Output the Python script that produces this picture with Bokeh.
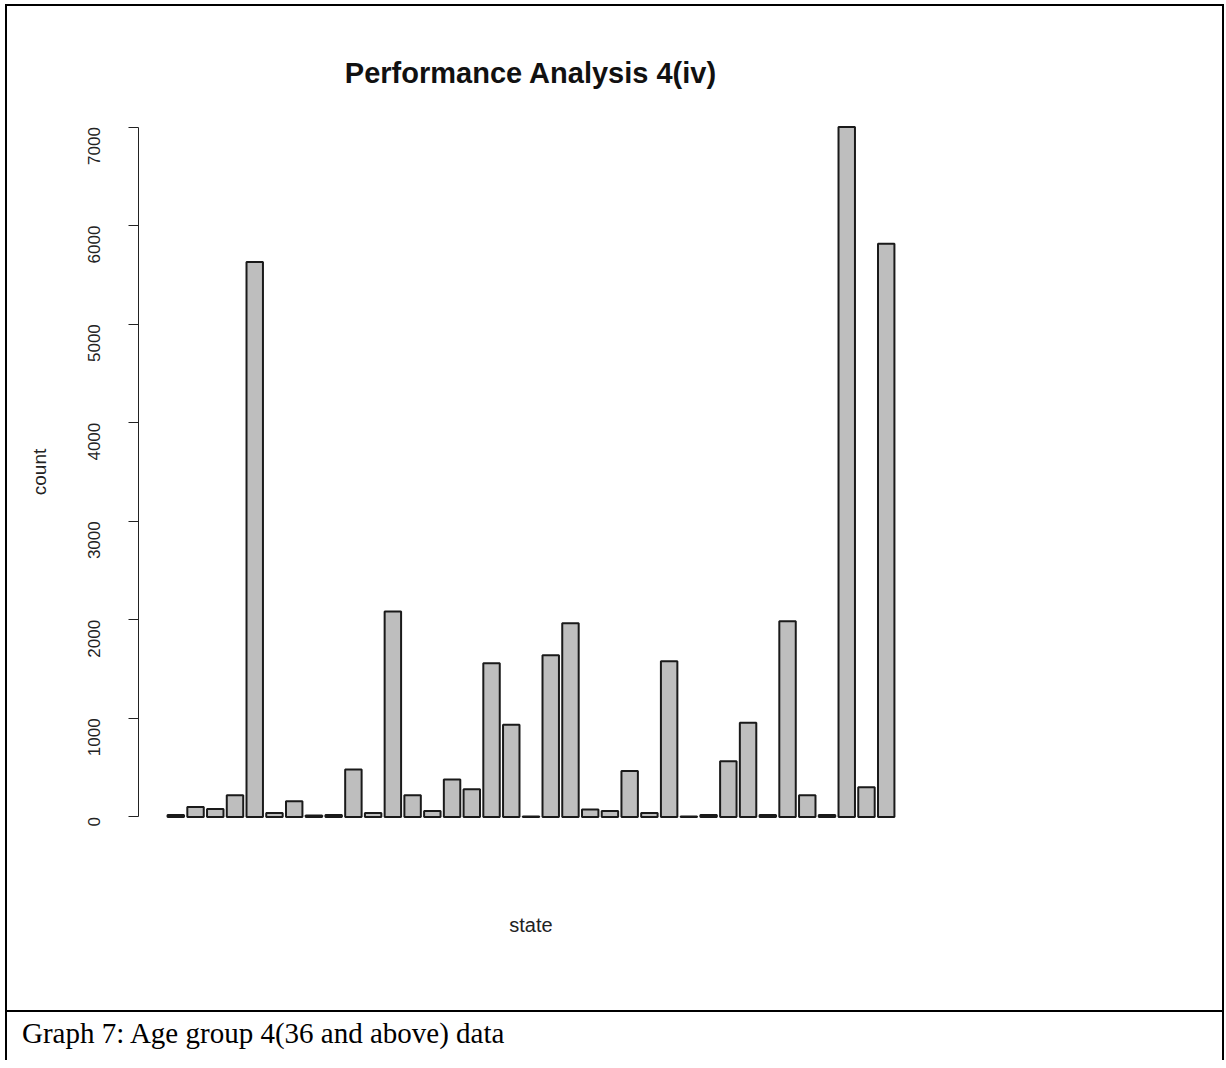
from bokeh.plotting import figure
from bokeh.models import Range1d, FixedTicker, LinearAxis, Div
from bokeh.layouts import column
from bokeh.embed import file_html
from bokeh.resources import INLINE
import math

# ---- data ----
bar_index = list(range(1, 38))
counts = [20, 100, 80, 220, 5630, 40, 160, 15, 20, 480, 40, 2085, 220, 60, 380,
          280, 1560, 935, 5, 1640, 1965, 75, 60, 465, 40, 1580, 3, 20, 565, 955,
          20, 1985, 220, 20, 7000, 300, 5815]
y_ticks = [0, 1000, 2000, 3000, 4000, 5000, 6000, 7000]
title_text = "Performance Analysis 4(iv)"
x_label = "state"
y_label = "count"
caption_text = "Graph 7: Age group 4(36 and above) data"

# R barplot geometry: width 1, space 0.2
centers = [0.7 + 1.2 * (i - 1) for i in bar_index]
x_lo, x_hi = 0.2, 1.2 * len(bar_index)
x_pad = 0.04 * (x_hi - x_lo)
y_max = max(counts)
y_pad = 0.04 * y_max

FW, FH = 781, 743
p = figure(width=1215, height=1004, frame_width=FW, frame_height=FH,
           min_border_left=131, min_border_right=303, min_border_top=93,
           min_border_bottom=168, output_backend="svg", toolbar_location=None,
           x_axis_location=None,
           x_range=Range1d(x_lo - x_pad, x_hi + x_pad),
           y_range=Range1d(-y_pad, y_max + y_pad))
p.styles = {"border-top": "2px solid black", "border-left": "2px solid black",
            "border-right": "2px solid black"}
p.outline_line_color = None
p.grid.visible = False
p.background_fill_color = "white"
p.border_fill_color = "white"

p.title.text = title_text
p.title.align = "center"
p.title.text_font = "Liberation Sans"
p.title.text_font_style = "bold"
p.title.text_font_size = "29px"
p.title.text_color = "#111111"
p.title.standoff = 22

p.vbar(x=centers, top=counts, bottom=0, width=1.0, fill_color="#BEBEBE",
       line_color="#1a1a1a", line_width=2)

ya = p.yaxis[0]
ya.ticker = FixedTicker(ticks=y_ticks)
ya.bounds = (0, 7000)
ya.major_label_orientation = math.pi / 2
ya.major_tick_out = 10
ya.major_tick_in = 0
ya.minor_tick_out = 0
ya.minor_tick_in = 0
ya.major_label_standoff = 34
ya.axis_line_color = "#222222"
ya.major_tick_line_color = "#222222"
ya.major_label_text_font = "Liberation Sans"
ya.major_label_text_font_size = "17px"
ya.major_label_text_color = "#222222"
ya.axis_label = y_label
ya.axis_label_text_font = "Liberation Sans"
ya.axis_label_text_font_size = "19px"
ya.axis_label_text_font_style = "normal"
ya.axis_label_text_color = "#222222"
ya.axis_label_standoff = 30

xa = LinearAxis(ticker=FixedTicker(ticks=[]), axis_line_color=None,
                major_tick_line_color=None, minor_tick_line_color=None,
                major_label_text_font_size="0px", axis_label=x_label,
                axis_label_text_font="Liberation Sans",
                axis_label_text_font_size="20px",
                axis_label_text_font_style="normal",
                axis_label_text_color="#222222", axis_label_standoff=69)
p.add_layout(xa, "below")

cap = Div(text=caption_text, width=1219, height=50, margin=0,
          styles={"border-top": "2px solid black", "border-left": "2px solid black",
                  "border-right": "2px solid black", "font-family": "Liberation Serif",
                  "font-size": "29px", "color": "black", "padding-left": "15px",
                  "padding-top": "1px", "background": "white"})

layout = column(p, cap, spacing=0, margin=(4, 0, 0, 5))
open("out.html", "w").write(file_html(layout, INLINE))
